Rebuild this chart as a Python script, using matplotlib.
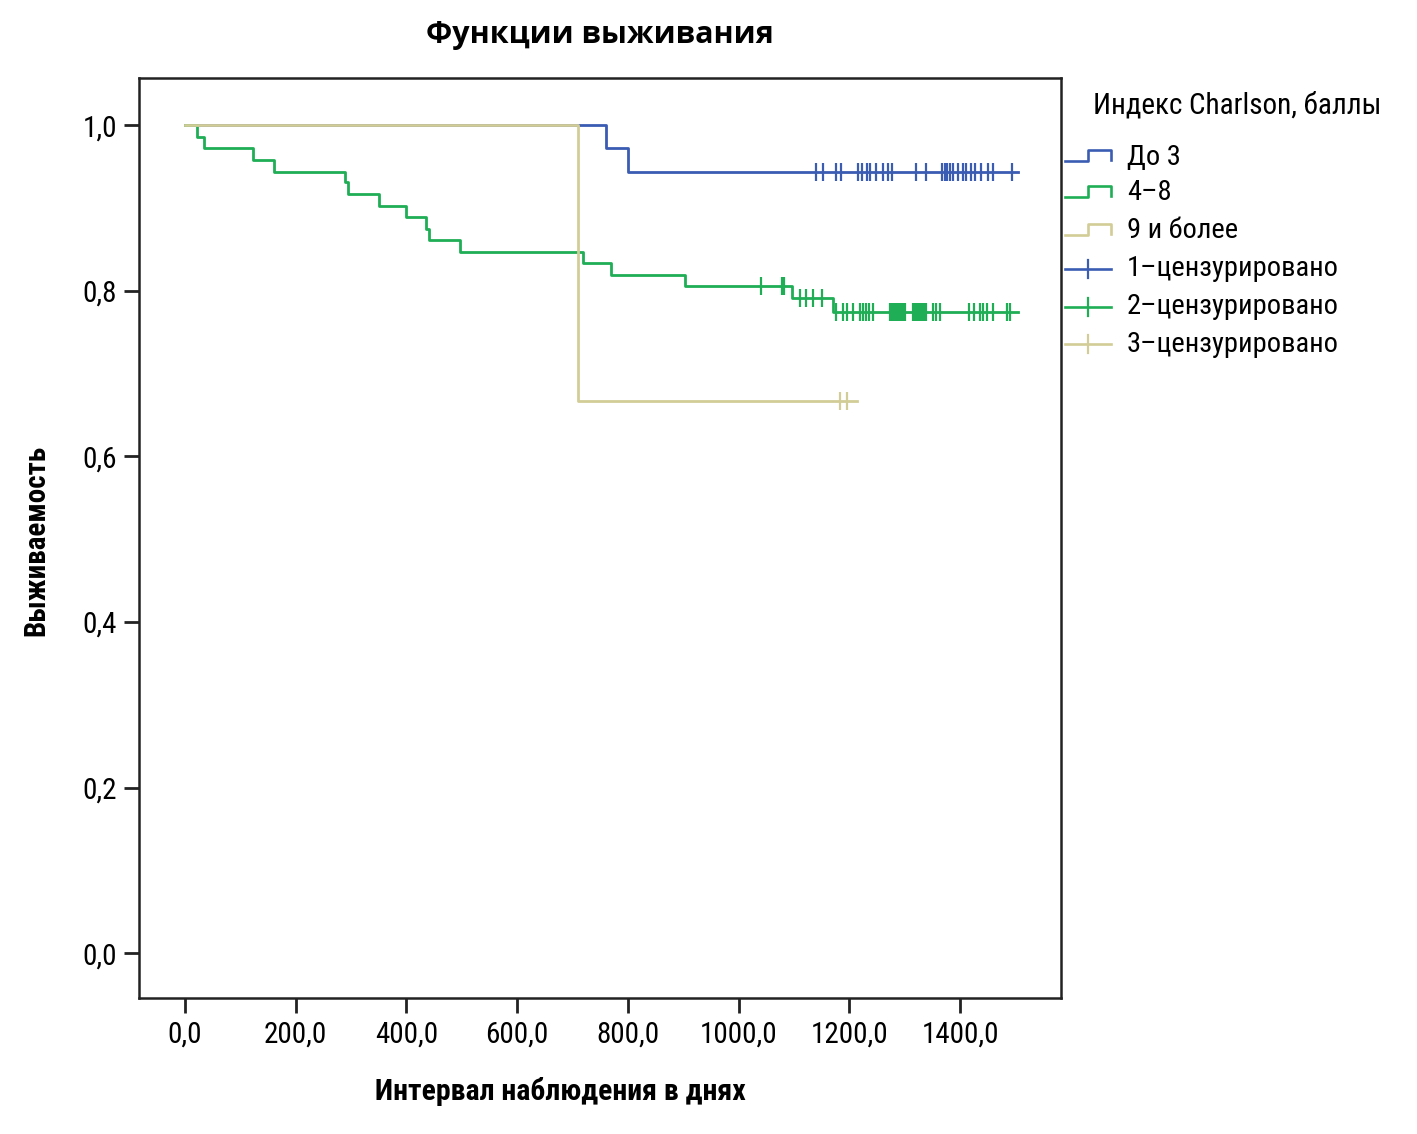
import matplotlib
matplotlib.use("Agg")
import matplotlib.pyplot as plt
from matplotlib import font_manager
from matplotlib.ticker import FixedLocator, FuncFormatter

names = {f.name for f in font_manager.fontManager.ttflist}
FONT = [n for n in ["Roboto Condensed", "Liberation Sans Narrow", "DejaVu Sans"] if n in names]
TITLE_FONT = [n for n in ["Open Sans", "DejaVu Sans"] if n in names]
plt.rcParams["font.family"] = FONT

# ---- data ----
blue_times = [0, 760, 800, 1504]
blue_surv = [1.0, 0.972, 0.944, 0.944]
blue_cens = [1140, 1153, 1176, 1185, 1216, 1222, 1231, 1237, 1248, 1260, 1270, 1277,
             1320, 1338, 1368, 1372, 1376, 1381, 1387, 1396, 1405, 1411, 1420, 1426,
             1438, 1450, 1459, 1493]

green_times = [0, 22, 35, 123, 160, 289, 294, 351, 399, 436, 441, 497, 719, 769, 903, 1097, 1170, 1504]
green_surv = [1.0, 0.986, 0.972, 0.958, 0.944, 0.931, 0.917, 0.903, 0.889, 0.875, 0.861,
              0.847, 0.833, 0.819, 0.806, 0.791, 0.775, 0.775]
green_cens = [1040, 1079, 1082, 1110, 1122, 1135, 1150,
              1176, 1188, 1196, 1206, 1219, 1225, 1230, 1236, 1243, 1273, 1276, 1279,
              1282, 1285, 1288, 1291, 1294, 1297, 1300, 1315, 1318, 1321, 1324, 1327,
              1330, 1333, 1336, 1339, 1351, 1357, 1363, 1415, 1424, 1436, 1442, 1448,
              1460, 1484, 1490]

beige_times = [0, 710, 1213]
beige_surv = [1.0, 0.667, 0.667]
beige_cens = [1183, 1196]

x_ticks = [0, 200, 400, 600, 800, 1000, 1200, 1400]
y_ticks = [0.0, 0.2, 0.4, 0.6, 0.8, 1.0]

legend_title = "Индекс Charlson, баллы"
legend_labels = ["До 3", "4–8", "9 и более", "1–цензурировано", "2–цензурировано", "3–цензурировано"]

BLUE = "#3a5cb2"
GREEN = "#1fae55"
BEIGE = "#d2cd97"
colors = [BLUE, GREEN, BEIGE]

W, H = 1417, 1134
fig = plt.figure(figsize=(W / 100, H / 100), dpi=100)
ax = fig.add_axes([139 / W, 1 - 998 / H, (1061 - 139) / W, (998 - 78) / H])


def surv_at(times, surv, t):
    val = surv[0]
    for ti, si in zip(times, surv):
        if ti <= t:
            val = si
    return val


series = [(blue_times, blue_surv, blue_cens, BLUE),
          (green_times, green_surv, green_cens, GREEN),
          (beige_times, beige_surv, beige_cens, BEIGE)]
for times, surv, cens, c in series:
    ax.step(times, surv, where="post", color=c, lw=2.0, zorder=3)
    ax.plot(cens, [surv_at(times, surv, t) for t in cens], ls="none", marker="|",
            ms=12.5, mew=1.6, color=c, zorder=3)

ax.set_xlim(-83, 1582)
ax.set_ylim(-0.054, 1.057)
ax.xaxis.set_major_locator(FixedLocator(x_ticks))
ax.yaxis.set_major_locator(FixedLocator(y_ticks))
ax.xaxis.set_major_formatter(FuncFormatter(lambda v, p: f"{v:.1f}".replace(".", ",")))
ax.yaxis.set_major_formatter(FuncFormatter(lambda v, p: f"{v:.1f}".replace(".", ",")))
ax.tick_params(axis="both", direction="out", length=11, width=2, labelsize=21, pad=5, color="#222222")
for s in ax.spines.values():
    s.set_linewidth(1.8)
    s.set_color("#222222")

fig.text(600 / W, 1 - 35 / H, "Функции выживания", ha="center", va="center",
         fontsize=22, fontweight="bold", family=TITLE_FONT)
fig.text(560 / W, 1 - 1091 / H, "Интервал наблюдения в днях", ha="center", va="center",
         fontsize=21.5, fontweight="bold")
fig.text(36 / W, 1 - 540 / H, "Выживаемость", ha="center", va="center", rotation=90,
         fontsize=21, fontweight="bold")

# ---- legend (drawn in pixel coordinates) ----
lax = fig.add_axes([0, 0, 1, 1], zorder=5)
lax.set_xlim(0, W)
lax.set_ylim(H, 0)
lax.axis("off")
lax.patch.set_alpha(0)
lax.text(1093, 106, legend_title, ha="left", va="center", fontsize=21)
ys = [157, 193, 231, 269, 307, 344]
for i, (lab, y) in enumerate(zip(legend_labels, ys)):
    c = colors[i % 3]
    if i < 3:
        lax.plot([1065, 1088, 1088, 1111, 1111], [y + 4, y + 4, y - 7, y - 7, y + 3], color=c, lw=1.9)
    else:
        lax.plot([1065, 1111], [y, y], color=c, lw=1.9)
        lax.plot([1088, 1088], [y - 9, y + 9], color=c, lw=1.6)
    lax.text(1127, y, lab, ha="left", va="center", fontsize=20.5)

fig.savefig("out.png", dpi=100)
